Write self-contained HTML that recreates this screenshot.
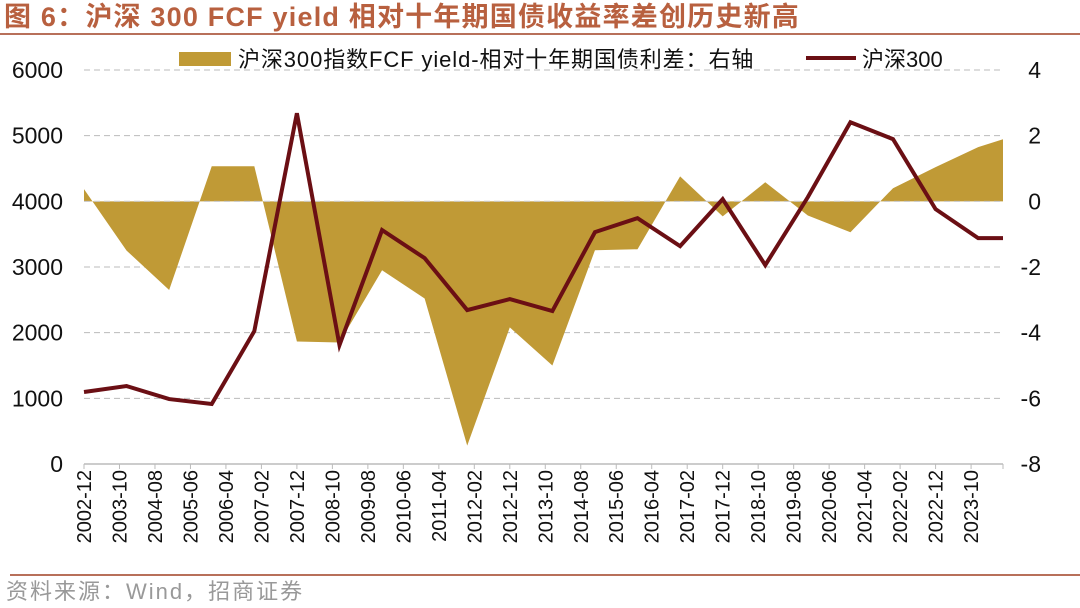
<!DOCTYPE html>
<html><head><meta charset="utf-8"><style>
body{margin:0;background:#fff;}
svg{display:block;font-family:"Liberation Sans","Noto Sans CJK SC",sans-serif;}
</style></head><body>
<svg id="c" width="1080" height="608" viewBox="0 0 1080 608">
<text x="4" y="26" font-size="27" font-weight="bold" fill="#B8603F" letter-spacing="1.2">图 6：沪深 300 FCF yield 相对十年期国债收益率差创历史新高</text>
<line x1="0" y1="34" x2="1080" y2="34" stroke="#B8705A" stroke-width="2"/>
<g id="grid"></g>
<g id="area"></g>
<g id="line"></g>
<g id="axes"></g>
<g>
<rect x="179" y="52" width="52" height="14" fill="#C09A36"/>
<text x="238" y="67" font-size="22" fill="#111" letter-spacing="0.9">沪深300指数FCF yield-相对十年期国债利差：右轴</text>
<line x1="806" y1="58" x2="856" y2="58" stroke="#6B0F14" stroke-width="4"/>
<text x="862" y="67" font-size="22" fill="#111">沪深300</text>
</g>
<line x1="10" y1="575" x2="1080" y2="575" stroke="#B8705A" stroke-width="2"/>
<text x="6" y="599" font-size="22" fill="#999" letter-spacing="2">资料来源：Wind，招商证券</text>
</svg>
<script>
const xLabels=["2002-12","2003-10","2004-08","2005-06","2006-04","2007-02","2007-12","2008-10","2009-08","2010-06","2011-04","2012-02","2012-12","2013-10","2014-08","2015-06","2016-04","2017-02","2017-12","2018-10","2019-08","2020-06","2021-04","2022-02","2022-12","2023-10"];
const pointMonths=[0,12,24,36,48,60,72,84,96,108,120,132,144,156,168,180,192,204,216,228,240,252,259];
const csi300=[1096,1187,989,913,2024,5342,1811,3562,3135,2344,2511,2329,3531,3744,3318,4033,3029,4064,5205,4947,3881,3440,3440];
const spread=[0.37,-1.5,-2.7,1.07,1.07,-4.27,-4.3,-2.1,-2.96,-7.44,-3.84,-5.0,-1.49,-1.46,0.76,-0.46,0.58,-0.43,-0.94,0.4,1.04,1.65,1.89];
const leftTicks=[0,1000,2000,3000,4000,5000,6000];
const rightTicks=[-8,-6,-4,-2,0,2,4];
const NS="http://www.w3.org/2000/svg";
const x0=84,x1=1003,totalMonths=259,yTop=70,yBot=464;
const xS=m=>x0+(x1-x0)*m/totalMonths;
const yL=v=>yBot-(v/6000)*(yBot-yTop);
const yR=v=>yBot-((v+8)/12)*(yBot-yTop);
function mk(tag,attrs,parent){const e=document.createElementNS(NS,tag);for(const k in attrs)e.setAttribute(k,attrs[k]);parent.appendChild(e);return e;}
const grid=document.getElementById('grid'),axes=document.getElementById('axes');
leftTicks.forEach((t,i)=>{
 if(t>0){const g=mk('line',{x1:x0,x2:x1,y1:yL(t),y2:yL(t),stroke:'#bbb','stroke-dasharray':'6 4','stroke-width':1},grid);
 
 }
 const tx=mk('text',{x:63,y:yL(t)+8,'font-size':23,'text-anchor':'end',fill:'#111'},axes);tx.textContent=t;
 
 
});
rightTicks.forEach(t=>{
 const tx=mk('text',{x:1041,y:yR(t)+8,'font-size':23,'text-anchor':'end',fill:'#111'},axes);tx.textContent=t;
 
 
});
let d='M'+xS(pointMonths[0])+','+yR(0);
spread.forEach((v,i)=>{d+=' L'+xS(pointMonths[i])+','+yR(v);});
d+=' L'+xS(pointMonths[pointMonths.length-1])+','+yR(0)+' Z';
const ap=mk('path',{d:d,fill:'#C09A36'},document.getElementById('area'));


const zl=mk('line',{x1:x0,x2:x1,y1:yR(0),y2:yR(0),stroke:'#ccc','stroke-dasharray':'6 4','stroke-width':1},document.getElementById('area'));


const pts=csi300.map((v,i)=>xS(pointMonths[i])+','+yL(v)).join(' ');
const pl=mk('polyline',{points:pts,fill:'none',stroke:'#6B0F14','stroke-width':4,'stroke-linejoin':'miter'},document.getElementById('line'));


const ax=mk('line',{x1:x0,x2:x1,y1:yBot,y2:yBot,stroke:'#bbb','stroke-width':1.5},axes);


xLabels.forEach((l,i)=>{
 const x=xS(i*10);
 const tk=mk('line',{x1:x,x2:x,y1:yBot,y2:yBot+5,stroke:'#bbb'},axes);
 
 
 const tx=mk('text',{x:0,y:0,'font-size':20,'text-anchor':'end',fill:'#111',transform:'translate('+(x+7)+','+(yBot+6)+') rotate(-90)'},axes);
 tx.textContent=l;
 
 
});
const last=mk('line',{x1:x1,x2:x1,y1:yBot,y2:yBot+5,stroke:'#bbb'},axes);


</script>
</body></html>
